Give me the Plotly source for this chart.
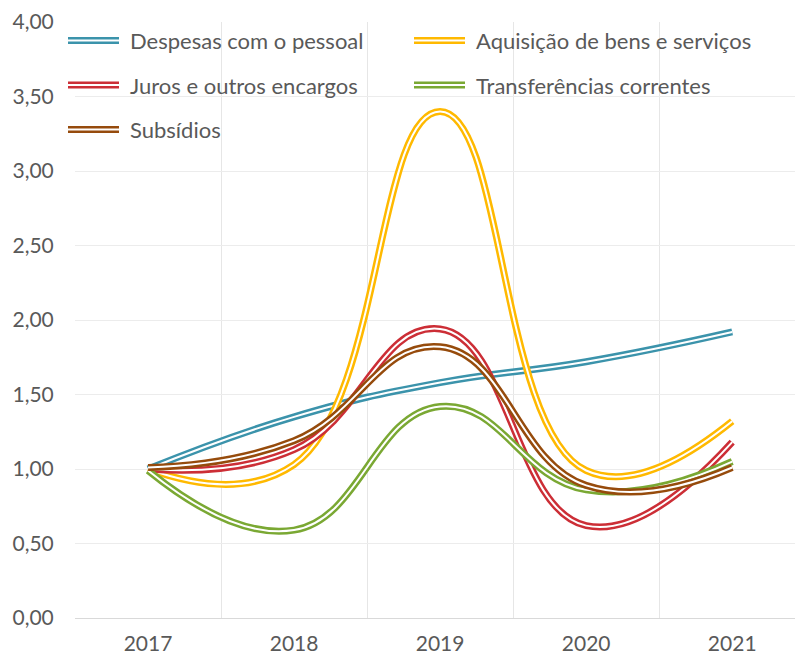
import plotly.graph_objects as go

years = ["2017", "2018", "2019", "2020", "2021"]
despesas = [1.00, 1.35, 1.58, 1.72, 1.92]
aquisicao = [1.00, 1.03, 3.40, 0.99, 1.32]
juros = [1.00, 1.13, 1.94, 0.62, 1.18]
transferencias = [0.99, 0.59, 1.42, 0.86, 1.05]
subsidios = [1.01, 1.19, 1.82, 0.89, 1.01]

names = ["Despesas com o pessoal", "Aquisição de bens e serviços",
         "Juros e outros encargos", "Transferências correntes", "Subsídios"]
series = [despesas, aquisicao, juros, transferencias, subsidios]
colors = ["#3b93ab", "#ffb900", "#cc2e36", "#7aa833", "#964b0c"]

FONT = "Lato"
TXT = "#595959"
W, H = 795, 657
L, T, B = 75, 22, 39
PW, PH = W - L, H - T - B

fig = go.Figure()
for name, vals, col in zip(names, series, colors):
    fig.add_trace(go.Scatter(x=years, y=vals, mode="lines", name=name,
                             line=dict(color=col, width=7, shape="spline", smoothing=1.3),
                             showlegend=False, hoverinfo="skip"))
    fig.add_trace(go.Scatter(x=years, y=vals, mode="lines", name=name,
                             line=dict(color="white", width=2, shape="spline", smoothing=1.3),
                             showlegend=False))

# custom legend with double-line symbols
legend_pos = [(68, 40.5), (414, 40.5), (68, 85), (414, 85), (68, 129.5)]
shapes = []
annotations = []
def px(x):
    return (x - L) / PW
def py(y):
    return (T + PH - y) / PH
for (lx, ly), name, col in zip(legend_pos, names, colors):
    shapes.append(dict(type="line", xref="paper", yref="paper",
                       x0=px(lx), x1=px(lx + 51), y0=py(ly), y1=py(ly),
                       line=dict(color=col, width=7)))
    shapes.append(dict(type="line", xref="paper", yref="paper",
                       x0=px(lx), x1=px(lx + 51), y0=py(ly), y1=py(ly),
                       line=dict(color="white", width=2)))
    annotations.append(dict(xref="paper", yref="paper", x=px(lx + 60), y=py(ly),
                            xanchor="left", yanchor="middle", text=name, showarrow=False,
                            font=dict(family=FONT, size=22, color=TXT)))

fig.update_layout(
    width=W, height=H,
    margin=dict(l=L, r=0, t=T, b=B),
    paper_bgcolor="white", plot_bgcolor="white",
    separators=",.",
    showlegend=False,
    shapes=shapes, annotations=annotations,
    font=dict(family=FONT, size=22, color=TXT),
    xaxis=dict(type="category", range=[-0.5, 4.43], tickson="boundaries",
               showgrid=True, gridcolor="#e6e6e6", gridwidth=1,
               ticks="", ticklabelstandoff=11,
               showline=False, zeroline=False, automargin=False,
               tickfont=dict(family=FONT, size=21, color=TXT)),
    yaxis=dict(range=[0, 4], dtick=0.5, tickformat=".2f",
               showgrid=True, gridcolor="#ececec", gridwidth=1,
               zeroline=True, zerolinecolor="#d9d9d9", zerolinewidth=1,
               showline=False, ticks="outside", ticklen=16, tickcolor="rgba(0,0,0,0)",
               automargin=False,
               tickfont=dict(family=FONT, size=21, color=TXT)),
)
fig.write_html("out.html", config={"displayModeBar": False})
with open("out.html", encoding="utf-8") as f:
    html = f.read()
html = html.replace("<head>", "<head><style>html,body{margin:0;padding:0;overflow:hidden}</style>", 1)
with open("out.html", "w", encoding="utf-8") as f:
    f.write(html)
